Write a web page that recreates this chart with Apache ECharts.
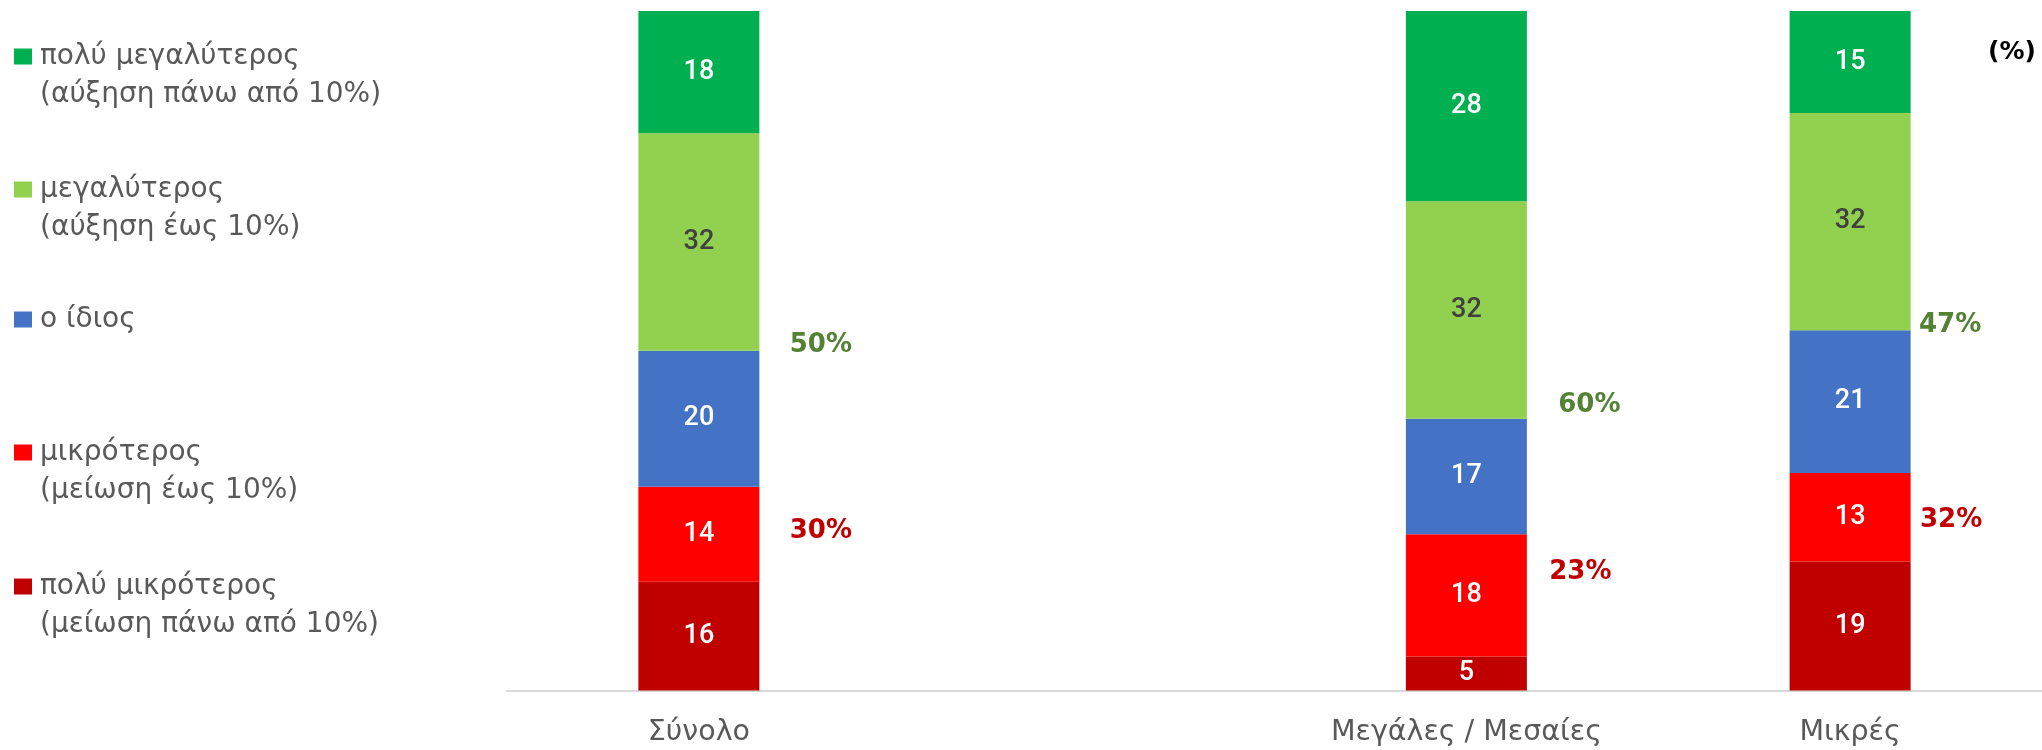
<!DOCTYPE html>
<html>
<head>
<meta charset="utf-8">
<script src="https://cdn.jsdelivr.net/npm/echarts@6/dist/echarts.min.js"></script>
<style>
  html, body { margin: 0; padding: 0; background: #ffffff; }
  #chart { width: 2042px; height: 750px; }
</style>
</head>
<body>
<div id="chart"></div>
<script>
// Categories (the empty one leaves a gap between "Σύνολο" and the company-size groups)
const categories = ['Σύνολο', '', 'Μεγάλες / Μεσαίες', 'Μικρές'];

// Stacked shares (%), bottom to top
const muchSmaller = [16, null, 5, 19];
const smaller     = [14, null, 18, 13];
const same        = [20, null, 17, 21];
const larger      = [32, null, 32, 32];
const muchLarger  = [18, null, 28, 15];

// Series names as shown in the legend
const seriesNames = [
  'πολύ μικρότερος\n(μείωση πάνω από 10%)',
  'μικρότερος\n(μείωση έως 10%)',
  'ο ίδιος',
  'μεγαλύτερος\n(αύξηση έως 10%)',
  'πολύ μεγαλύτερος\n(αύξηση πάνω από 10%)'
];

const colors = ['#C00000', '#FF0000', '#4472C4', '#92D050', '#00B050'];
const labelColors = ['#ffffff', '#ffffff', '#ffffff', '#404040', '#ffffff'];
const seriesData = [muchSmaller, smaller, same, larger, muchLarger];

// Totals written beside each bar: increase (both greens) and decrease (both reds)
const increaseTotals = categories.map((c, i) => larger[i] == null ? null : larger[i] + muchLarger[i]);
const decreaseTotals = categories.map((c, i) => smaller[i] == null ? null : smaller[i] + muchSmaller[i]);

// Pixel offsets of the total labels from their anchor points
const increaseOffsets = [[122, -6], null, [123, -13], [100, -5]];
const decreaseOffsets = [[122, -3], null, [114, -23], [101, 3]];

const labelFont = 'Roboto, "DejaVu Sans", sans-serif';
const textFont = '"DejaVu Sans", "Noto Sans", sans-serif';

const barSeries = seriesData.map((data, k) => ({
  name: seriesNames[k],
  type: 'bar',
  stack: 'total',
  barWidth: 121,
  data: data,
  itemStyle: { color: colors[k] },
  label: {
    show: true,
    position: 'inside',
    color: labelColors[k],
    fontFamily: labelFont,
    fontWeight: 500,
    fontSize: 27
  },
  emphasis: { disabled: true }
}));

// Increase total anchored at the top of the "ο ίδιος" segment,
// decrease total at the middle of the "μικρότερος" segment
const increaseAnchors = [];
const decreaseAnchors = [];
categories.forEach((c, i) => {
  if (increaseTotals[i] == null) return;
  increaseAnchors.push({
    value: [i, muchSmaller[i] + smaller[i] + same[i]],
    total: increaseTotals[i],
    label: { offset: increaseOffsets[i] }
  });
  decreaseAnchors.push({
    value: [i, muchSmaller[i] + smaller[i] / 2],
    total: decreaseTotals[i],
    label: { offset: decreaseOffsets[i] }
  });
});

function totalSeries(data, color) {
  return {
    type: 'scatter',
    data: data,
    symbolSize: 0,
    silent: true,
    z: 5,
    itemStyle: { opacity: 1 },
    label: {
      show: true,
      position: 'inside',
      formatter: p => p.data.total + '%',
      color: color,
      opacity: 1,
      fontFamily: textFont,
      fontWeight: 'bold',
      fontSize: 26
    }
  };
}

// One legend block per series, icon aligned with the first text line
const legendTops = [529.5, 395.5, 300.5, 132.5, -0.5];
const legends = seriesNames.map((name, k) => ({
  data: [name],
  orient: 'vertical',
  left: 14,
  top: legendTops[k],
  padding: 0,
  icon: 'rect',
  itemWidth: 18,
  itemHeight: 16,
  formatter: n => n.indexOf('\n') >= 0 ? '\n' + n : n,
  textStyle: {
    color: '#595959',
    fontFamily: textFont,
    fontSize: 28,
    lineHeight: 38,
    padding: [0, 0, 0, 3]
  }
}));

const chart = echarts.init(document.getElementById('chart'));
chart.setOption({
  animation: false,
  title: {
    text: '(%)',
    right: 6,
    top: 40,
    padding: 0,
    textStyle: { color: '#000000', fontFamily: textFont, fontWeight: 'bold', fontSize: 25 }
  },
  legend: legends,
  grid: { left: 507, right: 0, top: 11, bottom: 59.5, containLabel: false },
  xAxis: {
    type: 'category',
    data: categories,
    axisTick: { show: false },
    axisLine: { lineStyle: { color: '#D9D9D9', width: 2 } },
    axisLabel: {
      color: '#595959',
      fontFamily: textFont,
      fontSize: 28.5,
      margin: 28
    }
  },
  yAxis: {
    type: 'value',
    min: 0,
    max: 100,
    show: false,
    splitLine: { show: false }
  },
  series: barSeries.concat([
    totalSeries(increaseAnchors, '#548235'),
    totalSeries(decreaseAnchors, '#C00000')
  ])
});
</script>
</body>
</html>
